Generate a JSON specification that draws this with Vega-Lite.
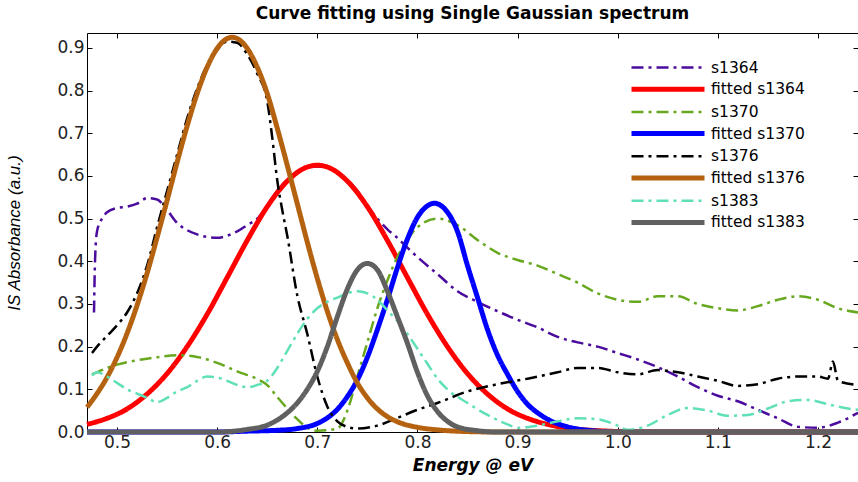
{
  "$schema": "https://vega.github.io/schema/vega-lite/v6.json",
  "autosize": "none",
  "width": 771,
  "height": 399,
  "padding": {"left": 87, "top": 33, "right": 0, "bottom": 50},
  "background": "white",
  "title": {"text": "Curve fitting using Single Gaussian spectrum", "font": "DejaVu Sans", "fontSize": 17, "fontWeight": "bold", "color": "#000", "anchor": "middle", "offset": 4},
  "data": {"values": [
    {"series":"s1364","energy":0.477,"abs":0.28},{"series":"s1364","energy":0.478,"abs":0.40},{"series":"s1364","energy":0.48,"abs":0.47},{"series":"s1364","energy":0.485,"abs":0.50},{"series":"s1364","energy":0.49,"abs":0.515},{"series":"s1364","energy":0.50,"abs":0.525},{"series":"s1364","energy":0.51,"abs":0.528},{"series":"s1364","energy":0.52,"abs":0.535},{"series":"s1364","energy":0.53,"abs":0.548},{"series":"s1364","energy":0.54,"abs":0.545},{"series":"s1364","energy":0.55,"abs":0.52},{"series":"s1364","energy":0.56,"abs":0.49},{"series":"s1364","energy":0.57,"abs":0.473},{"series":"s1364","energy":0.58,"abs":0.463},{"series":"s1364","energy":0.59,"abs":0.457},{"series":"s1364","energy":0.60,"abs":0.455},{"series":"s1364","energy":0.61,"abs":0.46},{"series":"s1364","energy":0.62,"abs":0.47},{"series":"s1364","energy":0.63,"abs":0.485},{"series":"s1364","energy":0.64,"abs":0.50},{"series":"s1364","energy":0.65,"abs":0.53},{"series":"s1364","energy":0.66,"abs":0.565},{"series":"s1364","energy":0.67,"abs":0.59},{"series":"s1364","energy":0.68,"abs":0.61},{"series":"s1364","energy":0.69,"abs":0.62},{"series":"s1364","energy":0.70,"abs":0.622},{"series":"s1364","energy":0.71,"abs":0.62},{"series":"s1364","energy":0.72,"abs":0.61},{"series":"s1364","energy":0.73,"abs":0.59},{"series":"s1364","energy":0.74,"abs":0.565},{"series":"s1364","energy":0.75,"abs":0.53},{"series":"s1364","energy":0.76,"abs":0.50},{"series":"s1364","energy":0.77,"abs":0.475},{"series":"s1364","energy":0.78,"abs":0.455},{"series":"s1364","energy":0.79,"abs":0.432},{"series":"s1364","energy":0.80,"abs":0.41},{"series":"s1364","energy":0.82,"abs":0.37},{"series":"s1364","energy":0.84,"abs":0.33},{"series":"s1364","energy":0.86,"abs":0.305},{"series":"s1364","energy":0.88,"abs":0.283},{"series":"s1364","energy":0.90,"abs":0.263},{"series":"s1364","energy":0.92,"abs":0.245},{"series":"s1364","energy":0.94,"abs":0.223},{"series":"s1364","energy":0.96,"abs":0.21},{"series":"s1364","energy":0.98,"abs":0.2},{"series":"s1364","energy":1.00,"abs":0.185},{"series":"s1364","energy":1.02,"abs":0.17},{"series":"s1364","energy":1.04,"abs":0.152},{"series":"s1364","energy":1.06,"abs":0.13},{"series":"s1364","energy":1.08,"abs":0.105},{"series":"s1364","energy":1.10,"abs":0.085},{"series":"s1364","energy":1.12,"abs":0.072},{"series":"s1364","energy":1.14,"abs":0.052},{"series":"s1364","energy":1.16,"abs":0.032},{"series":"s1364","energy":1.18,"abs":0.012},{"series":"s1364","energy":1.20,"abs":0.01},{"series":"s1364","energy":1.22,"abs":0.022},{"series":"s1364","energy":1.24,"abs":0.045},

    {"series":"fitted s1364","energy":0.47,"abs":0.018},{"series":"fitted s1364","energy":0.49,"abs":0.032},{"series":"fitted s1364","energy":0.51,"abs":0.054},{"series":"fitted s1364","energy":0.53,"abs":0.089},{"series":"fitted s1364","energy":0.55,"abs":0.137},{"series":"fitted s1364","energy":0.57,"abs":0.2},{"series":"fitted s1364","energy":0.59,"abs":0.276},{"series":"fitted s1364","energy":0.61,"abs":0.362},{"series":"fitted s1364","energy":0.63,"abs":0.449},{"series":"fitted s1364","energy":0.65,"abs":0.528},{"series":"fitted s1364","energy":0.67,"abs":0.588},{"series":"fitted s1364","energy":0.69,"abs":0.621},{"series":"fitted s1364","energy":0.70,"abs":0.625},{"series":"fitted s1364","energy":0.71,"abs":0.621},{"series":"fitted s1364","energy":0.73,"abs":0.588},{"series":"fitted s1364","energy":0.75,"abs":0.528},{"series":"fitted s1364","energy":0.77,"abs":0.449},{"series":"fitted s1364","energy":0.79,"abs":0.362},{"series":"fitted s1364","energy":0.81,"abs":0.276},{"series":"fitted s1364","energy":0.83,"abs":0.2},{"series":"fitted s1364","energy":0.85,"abs":0.137},{"series":"fitted s1364","energy":0.87,"abs":0.089},{"series":"fitted s1364","energy":0.89,"abs":0.054},{"series":"fitted s1364","energy":0.91,"abs":0.032},{"series":"fitted s1364","energy":0.93,"abs":0.018},{"series":"fitted s1364","energy":0.95,"abs":0.009},{"series":"fitted s1364","energy":0.97,"abs":0.0045},{"series":"fitted s1364","energy":0.99,"abs":0.002},{"series":"fitted s1364","energy":1.02,"abs":0},{"series":"fitted s1364","energy":1.24,"abs":0},

    {"series":"s1370","energy":0.475,"abs":0.135},{"series":"s1370","energy":0.49,"abs":0.15},{"series":"s1370","energy":0.50,"abs":0.158},{"series":"s1370","energy":0.52,"abs":0.168},{"series":"s1370","energy":0.54,"abs":0.175},{"series":"s1370","energy":0.56,"abs":0.18},{"series":"s1370","energy":0.58,"abs":0.176},{"series":"s1370","energy":0.60,"abs":0.162},{"series":"s1370","energy":0.62,"abs":0.142},{"series":"s1370","energy":0.64,"abs":0.124},{"series":"s1370","energy":0.65,"abs":0.11},{"series":"s1370","energy":0.66,"abs":0.082},{"series":"s1370","energy":0.67,"abs":0.055},{"series":"s1370","energy":0.68,"abs":0.03},{"series":"s1370","energy":0.69,"abs":0.01},{"series":"s1370","energy":0.70,"abs":0.003},{"series":"s1370","energy":0.72,"abs":0.008},{"series":"s1370","energy":0.73,"abs":0.05},{"series":"s1370","energy":0.74,"abs":0.13},{"series":"s1370","energy":0.75,"abs":0.21},{"series":"s1370","energy":0.76,"abs":0.29},{"series":"s1370","energy":0.77,"abs":0.355},{"series":"s1370","energy":0.78,"abs":0.41},{"series":"s1370","energy":0.79,"abs":0.45},{"series":"s1370","energy":0.80,"abs":0.48},{"series":"s1370","energy":0.82,"abs":0.5},{"series":"s1370","energy":0.84,"abs":0.485},{"series":"s1370","energy":0.86,"abs":0.45},{"series":"s1370","energy":0.88,"abs":0.42},{"series":"s1370","energy":0.90,"abs":0.403},{"series":"s1370","energy":0.92,"abs":0.39},{"series":"s1370","energy":0.94,"abs":0.37},{"series":"s1370","energy":0.96,"abs":0.35},{"series":"s1370","energy":0.98,"abs":0.325},{"series":"s1370","energy":1.00,"abs":0.31},{"series":"s1370","energy":1.02,"abs":0.305},{"series":"s1370","energy":1.04,"abs":0.318},{"series":"s1370","energy":1.06,"abs":0.318},{"series":"s1370","energy":1.08,"abs":0.3},{"series":"s1370","energy":1.10,"abs":0.29},{"series":"s1370","energy":1.12,"abs":0.285},{"series":"s1370","energy":1.14,"abs":0.295},{"series":"s1370","energy":1.16,"abs":0.31},{"series":"s1370","energy":1.18,"abs":0.318},{"series":"s1370","energy":1.20,"abs":0.31},{"series":"s1370","energy":1.22,"abs":0.29},{"series":"s1370","energy":1.24,"abs":0.28},

    {"series":"fitted s1370","energy":0.47,"abs":0},{"series":"fitted s1370","energy":0.60,"abs":0},{"series":"fitted s1370","energy":0.63,"abs":0.002},{"series":"fitted s1370","energy":0.66,"abs":0.004},{"series":"fitted s1370","energy":0.68,"abs":0.008},{"series":"fitted s1370","energy":0.70,"abs":0.02},{"series":"fitted s1370","energy":0.71,"abs":0.033},{"series":"fitted s1370","energy":0.72,"abs":0.053},{"series":"fitted s1370","energy":0.73,"abs":0.083},{"series":"fitted s1370","energy":0.74,"abs":0.122},{"series":"fitted s1370","energy":0.75,"abs":0.175},{"series":"fitted s1370","energy":0.76,"abs":0.24},{"series":"fitted s1370","energy":0.77,"abs":0.31},{"series":"fitted s1370","energy":0.78,"abs":0.385},{"series":"fitted s1370","energy":0.79,"abs":0.452},{"series":"fitted s1370","energy":0.80,"abs":0.503},{"series":"fitted s1370","energy":0.81,"abs":0.53},{"series":"fitted s1370","energy":0.817,"abs":0.536},{"series":"fitted s1370","energy":0.825,"abs":0.528},{"series":"fitted s1370","energy":0.83,"abs":0.515},{"series":"fitted s1370","energy":0.84,"abs":0.47},{"series":"fitted s1370","energy":0.85,"abs":0.39},{"series":"fitted s1370","energy":0.86,"abs":0.315},{"series":"fitted s1370","energy":0.87,"abs":0.24},{"series":"fitted s1370","energy":0.88,"abs":0.18},{"series":"fitted s1370","energy":0.89,"abs":0.135},{"series":"fitted s1370","energy":0.90,"abs":0.095},{"series":"fitted s1370","energy":0.91,"abs":0.065},{"series":"fitted s1370","energy":0.92,"abs":0.045},{"series":"fitted s1370","energy":0.93,"abs":0.03},{"series":"fitted s1370","energy":0.95,"abs":0.012},{"series":"fitted s1370","energy":0.97,"abs":0.004},{"series":"fitted s1370","energy":1.0,"abs":0},{"series":"fitted s1370","energy":1.24,"abs":0},

    {"series":"s1376","energy":0.475,"abs":0.185},{"series":"s1376","energy":0.48,"abs":0.2},{"series":"s1376","energy":0.49,"abs":0.225},{"series":"s1376","energy":0.50,"abs":0.25},{"series":"s1376","energy":0.51,"abs":0.28},{"series":"s1376","energy":0.52,"abs":0.325},{"series":"s1376","energy":0.53,"abs":0.39},{"series":"s1376","energy":0.54,"abs":0.48},{"series":"s1376","energy":0.55,"abs":0.565},{"series":"s1376","energy":0.56,"abs":0.65},{"series":"s1376","energy":0.57,"abs":0.735},{"series":"s1376","energy":0.58,"abs":0.805},{"series":"s1376","energy":0.59,"abs":0.86},{"series":"s1376","energy":0.60,"abs":0.895},{"series":"s1376","energy":0.61,"abs":0.915},{"series":"s1376","energy":0.62,"abs":0.912},{"series":"s1376","energy":0.63,"abs":0.885},{"series":"s1376","energy":0.64,"abs":0.84},{"series":"s1376","energy":0.65,"abs":0.775},{"series":"s1376","energy":0.655,"abs":0.69},{"series":"s1376","energy":0.66,"abs":0.59},{"series":"s1376","energy":0.665,"abs":0.52},{"series":"s1376","energy":0.67,"abs":0.46},{"series":"s1376","energy":0.68,"abs":0.32},{"series":"s1376","energy":0.69,"abs":0.23},{"series":"s1376","energy":0.70,"abs":0.13},{"series":"s1376","energy":0.71,"abs":0.06},{"series":"s1376","energy":0.72,"abs":0.025},{"series":"s1376","energy":0.73,"abs":0.012},{"series":"s1376","energy":0.74,"abs":0.008},{"series":"s1376","energy":0.76,"abs":0.015},{"series":"s1376","energy":0.78,"abs":0.033},{"series":"s1376","energy":0.80,"abs":0.052},{"series":"s1376","energy":0.82,"abs":0.068},{"series":"s1376","energy":0.85,"abs":0.095},{"series":"s1376","energy":0.88,"abs":0.112},{"series":"s1376","energy":0.91,"abs":0.125},{"series":"s1376","energy":0.94,"abs":0.14},{"series":"s1376","energy":0.96,"abs":0.15},{"series":"s1376","energy":0.98,"abs":0.15},{"series":"s1376","energy":1.00,"abs":0.14},{"series":"s1376","energy":1.02,"abs":0.135},{"series":"s1376","energy":1.04,"abs":0.145},{"series":"s1376","energy":1.06,"abs":0.14},{"series":"s1376","energy":1.08,"abs":0.13},{"series":"s1376","energy":1.10,"abs":0.12},{"series":"s1376","energy":1.12,"abs":0.108},{"series":"s1376","energy":1.14,"abs":0.112},{"series":"s1376","energy":1.16,"abs":0.125},{"series":"s1376","energy":1.18,"abs":0.13},{"series":"s1376","energy":1.20,"abs":0.13},{"series":"s1376","energy":1.21,"abs":0.125},{"series":"s1376","energy":1.215,"abs":0.165},{"series":"s1376","energy":1.22,"abs":0.12},{"series":"s1376","energy":1.24,"abs":0.11},

    {"series":"fitted s1376","energy":0.47,"abs":0.058},{"series":"fitted s1376","energy":0.48,"abs":0.09},{"series":"fitted s1376","energy":0.49,"abs":0.128},{"series":"fitted s1376","energy":0.50,"abs":0.175},{"series":"fitted s1376","energy":0.51,"abs":0.231},{"series":"fitted s1376","energy":0.52,"abs":0.297},{"series":"fitted s1376","energy":0.53,"abs":0.372},{"series":"fitted s1376","energy":0.54,"abs":0.456},{"series":"fitted s1376","energy":0.55,"abs":0.543},{"series":"fitted s1376","energy":0.56,"abs":0.632},{"series":"fitted s1376","energy":0.57,"abs":0.717},{"series":"fitted s1376","energy":0.58,"abs":0.793},{"series":"fitted s1376","energy":0.59,"abs":0.855},{"series":"fitted s1376","energy":0.60,"abs":0.899},{"series":"fitted s1376","energy":0.61,"abs":0.922},{"series":"fitted s1376","energy":0.615,"abs":0.925},{"series":"fitted s1376","energy":0.62,"abs":0.922},{"series":"fitted s1376","energy":0.63,"abs":0.899},{"series":"fitted s1376","energy":0.64,"abs":0.855},{"series":"fitted s1376","energy":0.65,"abs":0.793},{"series":"fitted s1376","energy":0.66,"abs":0.712},{"series":"fitted s1376","energy":0.67,"abs":0.625},{"series":"fitted s1376","energy":0.68,"abs":0.535},{"series":"fitted s1376","energy":0.69,"abs":0.445},{"series":"fitted s1376","energy":0.70,"abs":0.36},{"series":"fitted s1376","energy":0.71,"abs":0.283},{"series":"fitted s1376","energy":0.72,"abs":0.217},{"series":"fitted s1376","energy":0.73,"abs":0.162},{"series":"fitted s1376","energy":0.74,"abs":0.115},{"series":"fitted s1376","energy":0.75,"abs":0.08},{"series":"fitted s1376","energy":0.76,"abs":0.054},{"series":"fitted s1376","energy":0.77,"abs":0.036},{"series":"fitted s1376","energy":0.78,"abs":0.024},{"series":"fitted s1376","energy":0.80,"abs":0.011},{"series":"fitted s1376","energy":0.82,"abs":0.005},{"series":"fitted s1376","energy":0.85,"abs":0.001},{"series":"fitted s1376","energy":0.88,"abs":0},{"series":"fitted s1376","energy":1.24,"abs":0},

    {"series":"s1383","energy":0.475,"abs":0.132},{"series":"s1383","energy":0.48,"abs":0.14},{"series":"s1383","energy":0.49,"abs":0.13},{"series":"s1383","energy":0.50,"abs":0.115},{"series":"s1383","energy":0.51,"abs":0.1},{"series":"s1383","energy":0.52,"abs":0.09},{"series":"s1383","energy":0.53,"abs":0.08},{"series":"s1383","energy":0.54,"abs":0.07},{"series":"s1383","energy":0.55,"abs":0.08},{"series":"s1383","energy":0.56,"abs":0.095},{"series":"s1383","energy":0.57,"abs":0.105},{"series":"s1383","energy":0.58,"abs":0.12},{"series":"s1383","energy":0.59,"abs":0.13},{"series":"s1383","energy":0.60,"abs":0.128},{"series":"s1383","energy":0.61,"abs":0.12},{"series":"s1383","energy":0.62,"abs":0.11},{"series":"s1383","energy":0.63,"abs":0.105},{"series":"s1383","energy":0.64,"abs":0.11},{"series":"s1383","energy":0.65,"abs":0.12},{"series":"s1383","energy":0.66,"abs":0.15},{"series":"s1383","energy":0.67,"abs":0.19},{"series":"s1383","energy":0.68,"abs":0.23},{"series":"s1383","energy":0.69,"abs":0.265},{"series":"s1383","energy":0.70,"abs":0.29},{"series":"s1383","energy":0.71,"abs":0.305},{"series":"s1383","energy":0.72,"abs":0.315},{"series":"s1383","energy":0.73,"abs":0.325},{"series":"s1383","energy":0.74,"abs":0.33},{"series":"s1383","energy":0.75,"abs":0.325},{"series":"s1383","energy":0.76,"abs":0.31},{"series":"s1383","energy":0.77,"abs":0.285},{"series":"s1383","energy":0.78,"abs":0.26},{"series":"s1383","energy":0.79,"abs":0.23},{"series":"s1383","energy":0.80,"abs":0.195},{"series":"s1383","energy":0.81,"abs":0.16},{"series":"s1383","energy":0.82,"abs":0.125},{"series":"s1383","energy":0.83,"abs":0.1},{"series":"s1383","energy":0.85,"abs":0.068},{"series":"s1383","energy":0.87,"abs":0.04},{"series":"s1383","energy":0.89,"abs":0.018},{"series":"s1383","energy":0.90,"abs":0.01},{"series":"s1383","energy":0.92,"abs":0.015},{"series":"s1383","energy":0.94,"abs":0.025},{"series":"s1383","energy":0.96,"abs":0.032},{"series":"s1383","energy":0.98,"abs":0.03},{"series":"s1383","energy":1.00,"abs":0.015},{"series":"s1383","energy":1.01,"abs":0.005},{"series":"s1383","energy":1.03,"abs":0.015},{"series":"s1383","energy":1.05,"abs":0.04},{"series":"s1383","energy":1.07,"abs":0.056},{"series":"s1383","energy":1.09,"abs":0.05},{"series":"s1383","energy":1.11,"abs":0.038},{"series":"s1383","energy":1.13,"abs":0.04},{"series":"s1383","energy":1.15,"abs":0.055},{"series":"s1383","energy":1.17,"abs":0.072},{"series":"s1383","energy":1.19,"abs":0.075},{"series":"s1383","energy":1.21,"abs":0.065},{"series":"s1383","energy":1.23,"abs":0.055},{"series":"s1383","energy":1.24,"abs":0.052},

    {"series":"fitted s1383","energy":0.47,"abs":0},{"series":"fitted s1383","energy":0.60,"abs":0},{"series":"fitted s1383","energy":0.63,"abs":0.006},{"series":"fitted s1383","energy":0.65,"abs":0.016},{"series":"fitted s1383","energy":0.66,"abs":0.028},{"series":"fitted s1383","energy":0.67,"abs":0.045},{"series":"fitted s1383","energy":0.68,"abs":0.068},{"series":"fitted s1383","energy":0.69,"abs":0.1},{"series":"fitted s1383","energy":0.70,"abs":0.142},{"series":"fitted s1383","energy":0.71,"abs":0.2},{"series":"fitted s1383","energy":0.72,"abs":0.27},{"series":"fitted s1383","energy":0.73,"abs":0.335},{"series":"fitted s1383","energy":0.74,"abs":0.38},{"series":"fitted s1383","energy":0.75,"abs":0.395},{"series":"fitted s1383","energy":0.76,"abs":0.38},{"series":"fitted s1383","energy":0.77,"abs":0.33},{"series":"fitted s1383","energy":0.78,"abs":0.27},{"series":"fitted s1383","energy":0.79,"abs":0.208},{"series":"fitted s1383","energy":0.80,"abs":0.14},{"series":"fitted s1383","energy":0.81,"abs":0.085},{"series":"fitted s1383","energy":0.82,"abs":0.048},{"series":"fitted s1383","energy":0.83,"abs":0.025},{"series":"fitted s1383","energy":0.84,"abs":0.012},{"series":"fitted s1383","energy":0.86,"abs":0.003},{"series":"fitted s1383","energy":0.88,"abs":0},{"series":"fitted s1383","energy":1.24,"abs":0}
  ]},
  "layer": [
    {
      "mark": {"type": "line", "interpolate": "monotone", "strokeCap": "butt"},
      "encoding": {
        "x": {"field": "energy", "type": "quantitative",
          "scale": {"domain": [0.47, 1.24], "nice": false, "zero": false},
          "axis": {"values": [0.5,0.6,0.7,0.8,0.9,1,1.1,1.2], "title": "Energy @ eV", "titleFont": "DejaVu Sans", "titleFontStyle": "italic", "titleFontWeight": "bold", "titleFontSize": 17, "titleColor": "#000", "titlePadding": 7,
            "labelFont": "DejaVu Sans", "labelFontSize": 17, "labelColor": "#222", "labelPadding": 7, "labelFlush": false, "tickSize": -5, "tickColor": "#000", "domainColor": "#000", "grid": false}},
        "y": {"field": "abs", "type": "quantitative",
          "scale": {"domain": [0, 0.935], "nice": false, "zero": false},
          "axis": {"values": [0,0.1,0.2,0.3,0.4,0.5,0.6,0.7,0.8,0.9], "title": "IS Absorbance (a.u.)", "titleFont": "Liberation Sans", "titleFontStyle": "italic", "titleFontWeight": "normal", "titleFontSize": 17, "titleColor": "#000", "titlePadding": 33,
            "labelFont": "DejaVu Sans", "labelFontSize": 17, "labelColor": "#222", "labelPadding": 8, "labelFlush": false, "tickSize": -5, "tickColor": "#000", "domainColor": "#000", "grid": false}},
        "color": {"field": "series", "type": "nominal",
          "scale": {"domain": ["s1364","fitted s1364","s1370","fitted s1370","s1376","fitted s1376","s1383","fitted s1383"],
                    "range": ["#4B0C9E","#FF0000","#68A820","#0000FF","#000000","#B4620F","#60E0B8","#606060"]},
          "legend": {"title": null, "orient": "none", "legendX": 596, "legendY": 23, "padding": 0, "symbolType": "M-6.4,0H0.9", "symbolSize": 400, "labelFont": "DejaVu Sans", "labelFontSize": 15.5, "labelColor": "#000", "labelOffset": 3, "rowPadding": 0.7, "symbolFillColor": "transparent"}},
        "strokeDash": {"field": "series", "type": "nominal",
          "scale": {"domain": ["s1364","fitted s1364","s1370","fitted s1370","s1376","fitted s1376","s1383","fitted s1383"],
                    "range": [[12,5,3,5],[1,0],[12,5,3,5],[1,0],[12,5,3,5],[1,0],[12,5,3,5],[1,0]]}},
        "strokeWidth": {"field": "series", "type": "nominal",
          "scale": {"type": "ordinal", "domain": ["s1364","fitted s1364","s1370","fitted s1370","s1376","fitted s1376","s1383","fitted s1383"],
                    "range": [2.5,5,2.5,5,2.5,5,2.5,5]}}
      }
    },
    {
      "mark": {"type": "point", "opacity": 0},
      "encoding": {
        "x": {"field": "energy", "type": "quantitative",
          "axis": {"orient": "top", "values": [0.5,0.6,0.7,0.8,0.9,1,1.1,1.2], "labels": false, "title": null, "tickSize": -5, "tickColor": "#000", "domainColor": "#000", "grid": false}},
        "y": {"field": "abs", "type": "quantitative",
          "axis": {"orient": "right", "values": [0,0.1,0.2,0.3,0.4,0.5,0.6,0.7,0.8,0.9], "labels": false, "title": null, "tickSize": -5, "tickColor": "#000", "domainColor": "#000", "grid": false}}
      }
    }
  ],
  "resolve": {"axis": {"x": "independent", "y": "independent"}},
  "config": {"view": {"stroke": null}}
}
